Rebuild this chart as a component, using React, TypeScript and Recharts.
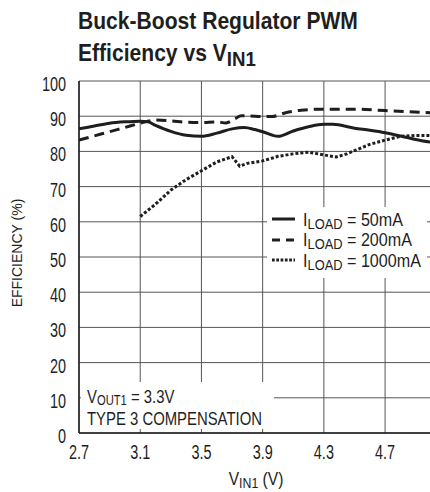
import { CartesianGrid, Line, LineChart, XAxis, YAxis } from "recharts";

// VIN1 (V) vs efficiency (%)
const vin50 = [2.7, 2.8, 2.9, 3.0, 3.1, 3.15, 3.2, 3.3, 3.4, 3.5, 3.6, 3.7, 3.78, 3.85, 3.9, 4.0, 4.1, 4.2, 4.3, 4.36, 4.5, 4.6, 4.7, 4.8, 4.9, 5.0];
const eff50 = [86.4, 87.2, 88.0, 88.4, 88.6, 88.4, 87.4, 85.7, 84.6, 84.3, 85.2, 86.4, 86.8, 86.2, 85.6, 84.3, 85.8, 87.0, 87.7, 87.7, 86.6, 86.0, 85.3, 84.4, 83.4, 82.6];

const vin200 = [2.7, 2.8, 2.9, 3.0, 3.1, 3.2, 3.3, 3.4, 3.5, 3.6, 3.66, 3.72, 3.76, 3.8, 3.9, 3.96, 4.05, 4.15, 4.3, 4.5, 4.7, 4.85, 5.0];
const eff200 = [83.2, 84.4, 85.6, 86.8, 88.0, 88.9, 88.7, 88.3, 88.2, 88.4, 88.1, 89.3, 90.1, 90.1, 89.9, 89.9, 91.0, 91.7, 92.0, 92.0, 91.6, 91.3, 91.0];

const vin1000 = [3.1, 3.2, 3.3, 3.4, 3.5, 3.6, 3.7, 3.75, 3.8, 3.9, 4.0, 4.1, 4.2, 4.3, 4.38, 4.45, 4.6, 4.7, 4.8, 4.9, 5.0];
const eff1000 = [61.5, 65.0, 69.0, 72.0, 74.5, 77.0, 78.5, 75.8, 76.6, 77.3, 78.6, 79.3, 79.8, 79.0, 78.4, 79.3, 82.0, 83.2, 84.3, 84.5, 84.5];

const xTicks = [2.7, 3.1, 3.5, 3.9, 4.3, 4.7];
const yTicks = [0, 10, 20, 30, 40, 50, 60, 70, 80, 90, 100];

const legendItems = [
  { label: "50mA", dash: undefined },
  { label: "200mA", dash: "8 6" },
  { label: "1000mA", dash: "2.7 1.6" },
];

const toPoints = (xs: number[], ys: number[]) => xs.map((v, i) => ({ v, e: ys[i] }));

const FONT = "'Liberation Sans', Arial, sans-serif";
const INK = "#1e1e1e";
const SUB = { fontSize: 14, verticalAlign: -3, lineHeight: 0 };

// tall condensed digits, like the datasheet font
function XTick({ x, y, payload }: any) {
  return (
    <text transform={`translate(${x},${y + 25.5}) scale(0.74,1)`} textAnchor="middle" fontSize={19.5} fill={INK} fontFamily={FONT}>
      {Number(payload.value).toFixed(1)}
    </text>
  );
}

function YTick({ x, y, payload }: any) {
  return (
    <text transform={`translate(${x},${y + 10}) scale(0.74,1)`} textAnchor="end" fontSize={19.5} fill={INK} fontFamily={FONT}>
      {payload.value}
    </text>
  );
}

export default function App() {
  return (
    <div
      style={{
        position: "absolute",
        left: 0,
        top: 0,
        width: 430,
        height: 492,
        overflow: "hidden",
        background: "#fff",
        fontFamily: FONT,
        color: INK,
      }}
    >
      <LineChart width={440} height={492} margin={{ top: 81, right: 9, left: 0, bottom: 29 }}>
        <CartesianGrid stroke="#555" strokeWidth={1} horizontalValues={yTicks} verticalValues={xTicks} />
        <XAxis
          type="number"
          dataKey="v"
          domain={[2.7, 5.0]}
          ticks={xTicks}
          allowDataOverflow
          height={30}
          tickSize={0}
          tickMargin={0}
          axisLine={{ stroke: INK, strokeWidth: 1.5 }}
          tick={<XTick />}
        />
        <YAxis
          type="number"
          domain={[0, 100]}
          ticks={yTicks}
          width={79}
          tickSize={0}
          tickMargin={13}
          axisLine={{ stroke: INK, strokeWidth: 1.5 }}
          tick={<YTick />}
        />
        <Line data={toPoints(vin50, eff50)} dataKey="e" type="monotone" stroke={INK} strokeWidth={3} dot={false} isAnimationActive={false} />
        <Line data={toPoints(vin200, eff200)} dataKey="e" type="monotone" stroke={INK} strokeWidth={3} strokeDasharray="10 6" dot={false} isAnimationActive={false} />
        <Line data={toPoints(vin1000, eff1000)} dataKey="e" type="linear" stroke={INK} strokeWidth={3} strokeDasharray="3 2" dot={false} isAnimationActive={false} />
      </LineChart>

      <div
        style={{
          position: "absolute",
          left: 78,
          top: 5,
          fontSize: 23.7,
          fontWeight: "bold",
          lineHeight: "32px",
          whiteSpace: "nowrap",
          transform: "scaleX(0.89)",
          transformOrigin: "0 0",
        }}
      >
        Buck-Boost Regulator PWM
        <br />
        Efficiency vs V<sub style={{ fontSize: 21, verticalAlign: -5, lineHeight: 0 }}>IN1</sub>
      </div>

      <div
        style={{
          position: "absolute",
          left: 17,
          top: 253,
          transform: "translate(-50%, -50%) rotate(-90deg)",
          fontSize: 14,
          lineHeight: "16px",
          whiteSpace: "nowrap",
        }}
      >
        EFFICIENCY (%)
      </div>

      <div
        style={{
          position: "absolute",
          left: 0,
          width: 512,
          top: 468.5,
          textAlign: "center",
          fontSize: 17.7,
          lineHeight: "20px",
          whiteSpace: "nowrap",
          transform: "scaleX(0.88)",
          transformOrigin: "256px 0",
        }}
      >
        V<sub style={SUB}>IN1</sub> (V)
      </div>

      <div style={{ position: "absolute", left: 267, top: 207, width: 160, height: 71, background: "#fff" }}>
        {legendItems.map((item, i) => (
          <div key={item.label}>
            <svg width={24} height={6} style={{ position: "absolute", left: 5, top: 9 + i * 20.5 }}>
              <line x1={0} y1={3} x2={23} y2={3} stroke={INK} strokeWidth={3} strokeDasharray={item.dash} />
            </svg>
            <div
              style={{
                position: "absolute",
                left: 36,
                top: 3 + i * 20.4,
                fontSize: 17.5,
                lineHeight: "20px",
                whiteSpace: "nowrap",
                transform: "scaleX(0.92)",
                transformOrigin: "0 0",
              }}
            >
              I<sub style={SUB}>LOAD</sub> = {item.label}
            </div>
          </div>
        ))}
      </div>

      <div style={{ position: "absolute", left: 81, top: 382, width: 193, height: 47, background: "#fff" }}>
        <div
          style={{
            position: "absolute",
            left: 6,
            top: 4,
            fontSize: 18.6,
            lineHeight: "22px",
            whiteSpace: "nowrap",
            transform: "scaleX(0.8)",
            transformOrigin: "0 0",
          }}
        >
          V<sub style={{ ...SUB, verticalAlign: -2 }}>OUT1</sub> = 3.3V
          <br />
          TYPE 3 COMPENSATION
        </div>
      </div>
    </div>
  );
}
